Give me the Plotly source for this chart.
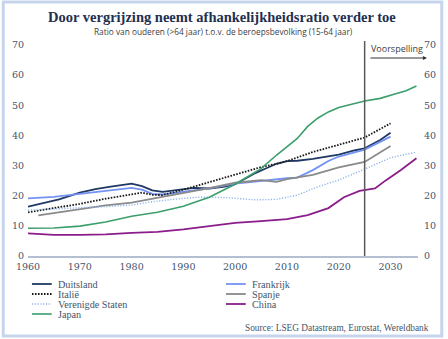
import plotly.graph_objects as go

# Old-age dependency ratio (>64 / 15-64), %; values from 2025 onward are projections
years_de = [1960, 1963, 1966, 1970, 1973, 1976, 1978, 1980, 1982, 1984, 1986, 1988, 1990, 1992, 1995, 1998,
            2000, 2002, 2004, 2006, 2008, 2010, 2012, 2015, 2018, 2020, 2023, 2025, 2028, 2030]
duitsland = [16.4, 17.5, 18.8, 21.0, 22.2, 23.0, 23.6, 24.0, 23.2, 21.8, 21.3, 21.7, 22.3, 22.6, 22.4, 23.0,
             23.8, 25.6, 27.6, 29.1, 30.6, 31.5, 31.6, 32.2, 33.0, 33.6, 35.0, 35.7, 38.5, 40.9]

years_fr = [1960, 1965, 1970, 1975, 1980, 1982, 1984, 1986, 1990, 1995, 2000, 2005, 2010, 2012,
            2015, 2018, 2020, 2025, 2030]
frankrijk = [19.1, 19.6, 20.6, 21.7, 22.6, 22.0, 20.6, 20.4, 21.3, 22.4, 24.0, 25.0, 25.8, 26.0,
             28.5, 31.5, 33.0, 35.3, 39.6]

years_it = [1960, 1965, 1970, 1975, 1980, 1982, 1984, 1986, 1990, 1995, 2000, 2005, 2008, 2010,
            2015, 2020, 2025, 2030]
italie = [14.5, 15.8, 17.3, 19.0, 20.6, 21.0, 20.3, 20.2, 22.0, 24.5, 27.2, 29.5, 30.6, 31.5,
          34.5, 36.8, 39.3, 44.0]

years_es = [1962, 1965, 1970, 1975, 1980, 1985, 1990, 1995, 2000, 2005, 2008, 2010, 2015, 2020, 2025, 2030]
spanje = [13.5, 14.3, 15.6, 16.8, 17.7, 19.3, 20.8, 22.5, 24.3, 25.2, 24.6, 25.5, 26.9, 29.4, 31.2, 36.5]

years_us = [1960, 1965, 1970, 1975, 1980, 1984, 1988, 1993, 1998, 2004, 2008, 2010, 2012, 2016,
            2020, 2025, 2030, 2035]
verenigde_staten = [15.2, 15.6, 15.8, 16.4, 16.9, 18.0, 18.8, 19.5, 19.4, 18.6, 18.8, 19.5, 20.2, 23.0,
                    25.2, 28.8, 32.6, 34.5]

years_jp = [1960, 1965, 1970, 1975, 1980, 1985, 1990, 1995, 2000, 2005, 2008, 2010, 2012, 2014, 2016,
            2018, 2020, 2025, 2028, 2031, 2033, 2035]
japan = [9.2, 9.3, 9.9, 11.3, 13.2, 14.5, 16.5, 19.5, 23.8, 29.0, 33.5, 36.3, 39.0, 43.0, 45.8,
         47.8, 49.3, 51.4, 52.3, 53.8, 54.8, 56.4]

years_cn = [1960, 1965, 1970, 1975, 1980, 1985, 1990, 1995, 2000, 2005, 2010, 2014, 2018, 2021,
            2024, 2027, 2029, 2032, 2035]
china = [7.5, 7.0, 7.0, 7.2, 7.7, 8.0, 8.8, 10.0, 11.0, 11.6, 12.2, 13.6, 15.9, 19.5,
         21.6, 22.4, 25.0, 28.5, 32.4]

series = [
    ("Duitsland", years_de, duitsland, "#1f3864", "solid", 1.8),
    ("Frankrijk", years_fr, frankrijk, "#7393f2", "solid", 1.8),
    ("Italië", years_it, italie, "#1a1a1a", "1.6px,1.4px", 1.8),
    ("Spanje", years_es, spanje, "#8a8a8a", "solid", 1.8),
    ("Verenigde Staten", years_us, verenigde_staten, "#8fb4ea", "1.2px,1.6px", 1.4),
    ("Japan", years_jp, japan, "#3c9e6c", "solid", 1.6),
    ("China", years_cn, china, "#8b1c8b", "solid", 1.8),
]

legend_left = ["Duitsland", "Italië", "Verenigde Staten", "Japan"]
legend_right = ["Frankrijk", "Spanje", "China"]

x_ticks = [1960, 1970, 1980, 1990, 2000, 2010, 2020, 2030]
y_ticks = [0, 10, 20, 30, 40, 50, 60, 70]
forecast_start = 2025

SERIF = "Liberation Serif, DejaVu Serif, serif"
TICK_FONT = dict(family="DejaVu Serif, serif", size=9.5, color="#44546a")

fig = go.Figure()
for name, xs, ys, color, dash, width in series:
    fig.add_trace(go.Scatter(x=xs, y=ys, name=name, mode="lines",
                             line=dict(color=color, dash=dash, width=width),
                             showlegend=False, yaxis="y"))
# mirror trace to anchor the right-hand axis
fig.add_trace(go.Scatter(x=years_jp, y=japan, mode="lines", line=dict(width=0),
                         opacity=0, showlegend=False, hoverinfo="skip", yaxis="y2"))

W, H = 448, 339
ML, MR, MT, MB = 28, 26, 45, 83
PW, PH = W - ML - MR, H - MT - MB


def px(x):
    return (x - ML) / PW


def py(y):
    return (H - MB - y) / PH


fig.update_layout(
    width=W, height=H,
    margin=dict(l=ML, r=MR, t=MT, b=MB),
    paper_bgcolor="white", plot_bgcolor="white",
    xaxis=dict(range=[1960, 2035.3], tickvals=x_ticks, showgrid=False, zeroline=False,
               showline=True, linecolor="#b4c0d2", linewidth=2, ticks="",
               tickfont=TICK_FONT, ticklabelstandoff=1),
    yaxis=dict(range=[0, 70], tickvals=y_ticks, showgrid=False, zeroline=False,
               showline=False, ticks="", tickfont=TICK_FONT, ticklabelstandoff=3),
    yaxis2=dict(range=[0, 70], tickvals=y_ticks, overlaying="y", side="right",
                showgrid=False, zeroline=False, showline=False, ticks="",
                tickfont=TICK_FONT, ticklabelstandoff=5),
)

shapes = []
annotations = []

# outer frame
shapes.append(dict(type="rect", xref="paper", yref="paper",
                   x0=px(3), x1=px(446), y0=py(336), y1=py(2),
                   line=dict(color="#c6d5ec", width=3), fillcolor="rgba(0,0,0,0)", layer="below"))

# forecast divider and label
shapes.append(dict(type="line", xref="x", yref="paper", x0=forecast_start, x1=forecast_start,
                   y0=0, y1=py(41), line=dict(color="#595959", width=1.5)))
annotations.append(dict(xref="x", yref="paper", x=forecast_start + 0.9, y=py(48),
                        text="Voorspelling", showarrow=False, xanchor="left", yanchor="middle",
                        font=dict(family="Open Sans, sans-serif", size=9, color="#404040")))
annotations.append(dict(xref="paper", yref="paper", x=px(431), y=py(58),
                        ax=-58, ay=0, axref="pixel", ayref="pixel",
                        text="", showarrow=True, arrowhead=2, arrowsize=0.8, arrowwidth=1,
                        arrowcolor="#333333"))

# title and subtitle
annotations.append(dict(xref="paper", yref="paper", x=px(224), y=py(17),
                        text="<b>Door vergrijzing neemt afhankelijkheidsratio verder toe</b>",
                        showarrow=False, xanchor="center", yanchor="middle",
                        font=dict(family=SERIF, size=14.5, color="#1f3050")))
annotations.append(dict(xref="paper", yref="paper", x=px(225), y=py(32),
                        text="Ratio van ouderen (>64 jaar) t.o.v. de beroepsbevolking (15-64 jaar)",
                        showarrow=False, xanchor="center", yanchor="middle",
                        font=dict(family="Open Sans, sans-serif", size=8.3, color="#404040")))

# legend drawn in two columns
style = {name: (color, dash, width) for name, _, _, color, dash, width in series}
rows = [284, 294, 304, 314]
for col_names, x0, x1, xt in [(legend_left, 32, 52, 56), (legend_right, 228, 248, 252)]:
    for name, ry in zip(col_names, rows):
        color, dash, width = style[name]
        shapes.append(dict(type="line", xref="paper", yref="paper",
                           x0=px(x0), x1=px(x1), y0=py(ry), y1=py(ry),
                           line=dict(color=color, dash=dash, width=width)))
        annotations.append(dict(xref="paper", yref="paper", x=px(xt), y=py(ry), text=name,
                                showarrow=False, xanchor="left", yanchor="middle",
                                font=dict(family=SERIF, size=10.2, color="#44546a")))

annotations.append(dict(xref="paper", yref="paper", x=px(435), y=py(328),
                        text="Source: LSEG Datastream, Eurostat, Wereldbank",
                        showarrow=False, xanchor="right", yanchor="middle",
                        font=dict(family=SERIF, size=9.3, color="#44546a")))

fig.update_layout(shapes=shapes, annotations=annotations)
fig.write_html("out.html")
